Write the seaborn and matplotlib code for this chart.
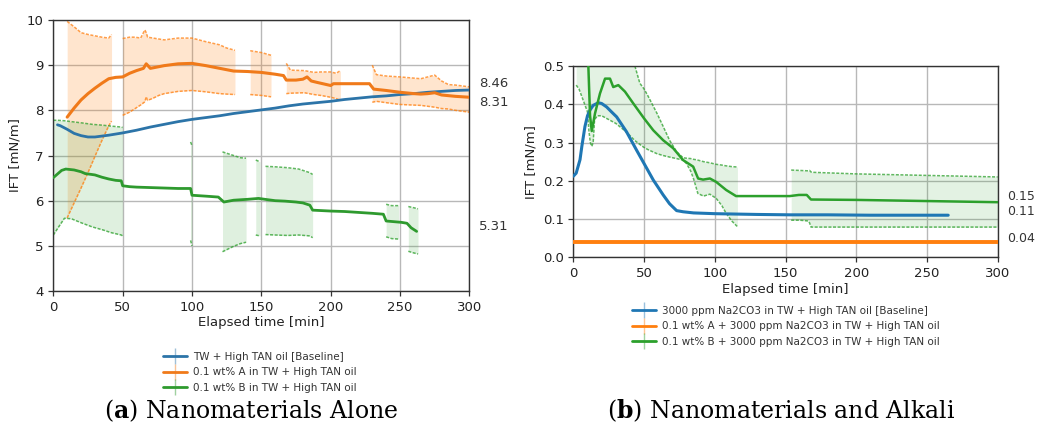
import matplotlib
matplotlib.use("Agg")
import matplotlib.pyplot as plt
from matplotlib.lines import Line2D
import numpy as np
import seaborn as sns

sns.set_style("ticks")
plt.rcParams["font.family"] = ["DejaVu Sans"]
plt.rcParams["mathtext.fontset"] = "custom"
plt.rcParams["mathtext.rm"] = "DejaVu Serif"
plt.rcParams["mathtext.bf"] = "DejaVu Serif:bold"

# ---------------- data : panel (a) ----------------
a_base_t = [3, 5, 10, 15, 20, 25, 30, 35, 40, 50, 60, 70, 80, 90, 100, 110, 120, 130, 140,
            150, 160, 170, 180, 190, 200, 210, 220, 230, 240, 250, 260, 270, 280, 290, 300]
a_base_v = [7.68, 7.66, 7.58, 7.49, 7.44, 7.41, 7.41, 7.43, 7.45, 7.50, 7.56, 7.63, 7.69, 7.75,
            7.80, 7.84, 7.88, 7.93, 7.97, 8.01, 8.05, 8.10, 8.14, 8.17, 8.20, 8.24, 8.27, 8.30,
            8.32, 8.35, 8.37, 8.40, 8.42, 8.44, 8.45]

a_A_t = [10, 15, 20, 25, 30, 35, 40, 45, 50, 55, 60, 65, 67, 70, 75, 80, 90, 100, 110, 120,
         130, 140, 150, 160, 166, 168, 175, 180, 183, 186, 190, 200, 202, 210, 228, 231, 240,
         250, 260, 265, 270, 275, 280, 290, 300]
a_A_v = [7.85, 8.05, 8.23, 8.37, 8.49, 8.60, 8.70, 8.73, 8.74, 8.82, 8.88, 8.93, 9.03, 8.93,
         8.96, 8.99, 9.03, 9.04, 8.99, 8.93, 8.87, 8.86, 8.84, 8.80, 8.77, 8.67, 8.67, 8.69,
         8.74, 8.65, 8.62, 8.55, 8.59, 8.59, 8.59, 8.47, 8.44, 8.40, 8.37, 8.36, 8.37, 8.39,
         8.34, 8.31, 8.29]
# error-bar envelope segments (time, lower, upper)
a_A_err = [
    ([10, 15, 20, 25, 30, 35, 40, 42],
     [5.62, 5.95, 6.28, 6.62, 6.98, 7.33, 7.66, 7.76],
     [9.97, 9.85, 9.72, 9.68, 9.65, 9.62, 9.60, 9.68]),
    ([50, 55, 59, 63, 66, 67, 68, 72, 76, 80, 90, 100, 110, 120, 125, 131],
     [7.89, 7.96, 8.04, 8.12, 8.19, 8.30, 8.22, 8.27, 8.33, 8.37, 8.42, 8.44, 8.41, 8.37, 8.36, 8.35],
     [9.59, 9.62, 9.62, 9.60, 9.78, 9.72, 9.62, 9.60, 9.58, 9.56, 9.60, 9.60, 9.52, 9.45, 9.38, 9.33]),
    ([142, 150, 157],
     [8.35, 8.33, 8.30],
     [9.32, 9.28, 9.22]),
    ([168, 171, 181, 188, 193, 200, 204, 207],
     [8.37, 8.38, 8.39, 8.35, 8.33, 8.29, 8.26, 8.22],
     [9.04, 8.89, 8.88, 8.84, 8.85, 8.85, 8.82, 8.88]),
    ([230, 233, 240, 250, 265, 275, 280, 285, 290, 300],
     [8.18, 8.20, 8.17, 8.13, 8.11, 8.07, 8.04, 8.03, 8.00, 7.96],
     [9.00, 8.79, 8.76, 8.74, 8.70, 8.78, 8.65, 8.57, 8.56, 8.52]),
]

a_B_t = [0, 3, 6, 9, 15, 20, 23, 30, 35, 40, 45, 49, 50, 55, 60, 70, 80, 90, 99, 100, 105, 110,
         119, 123, 130, 140, 148, 155, 160, 167, 175, 180, 185, 187, 200, 210, 220, 230, 238,
         240, 251, 255, 258, 262]
a_B_v = [6.51, 6.59, 6.67, 6.70, 6.68, 6.64, 6.60, 6.57, 6.52, 6.48, 6.45, 6.44, 6.33, 6.31,
         6.30, 6.29, 6.28, 6.27, 6.27, 6.12, 6.11, 6.10, 6.08, 5.97, 6.01, 6.03, 6.05, 6.02,
         6.00, 5.99, 5.97, 5.95, 5.90, 5.79, 5.77, 5.76, 5.74, 5.72, 5.70, 5.55, 5.52, 5.50,
         5.40, 5.32]
a_B_err = [
    ([0, 3, 8, 13, 21, 28, 36, 42, 49, 50],
     [5.24, 5.38, 5.61, 5.60, 5.50, 5.42, 5.35, 5.29, 5.24, 5.22],
     [7.78, 7.78, 7.77, 7.75, 7.72, 7.69, 7.67, 7.65, 7.63, 7.62]),
    ([99, 100],
     [5.12, 5.00],
     [7.30, 7.22]),
    ([122, 126, 130, 135, 139],
     [4.87, 4.93, 4.99, 5.05, 5.08],
     [7.08, 7.04, 7.00, 6.95, 6.94]),
    ([146, 149],
     [5.24, 5.22],
     [6.90, 6.86]),
    ([153, 160, 169, 177, 185, 187],
     [5.25, 5.24, 5.23, 5.24, 5.22, 5.18],
     [6.76, 6.75, 6.73, 6.70, 6.62, 6.58]),
    ([240, 244, 249],
     [5.20, 5.16, 5.15],
     [5.92, 5.89, 5.89]),
    ([256, 259, 263],
     [4.88, 4.85, 4.82],
     [5.87, 5.85, 5.82]),
]

# ---------------- data : panel (b) ----------------
b_base_t = [0, 2, 4.7, 6, 8.2, 10, 11.8, 14, 17.6, 20, 23.5, 27, 30.6, 34, 37.6, 41, 44.7, 50,
            56.5, 63.5, 68, 73, 77.6, 85, 100, 130, 153, 180, 210, 240, 265]
b_base_v = [0.212, 0.220, 0.255, 0.290, 0.342, 0.370, 0.385, 0.397, 0.404, 0.402, 0.393, 0.380,
            0.367, 0.348, 0.328, 0.305, 0.280, 0.245, 0.202, 0.163, 0.140, 0.122, 0.119, 0.116,
            0.114, 0.112, 0.111, 0.111, 0.110, 0.110, 0.110]

b_A_t = [0, 50, 100, 150, 200, 250, 300]
b_A_v = [0.04, 0.04, 0.04, 0.04, 0.04, 0.04, 0.04]

b_B_t = [10, 10.6, 11.8, 13, 15.3, 18.8, 22.4, 25.9, 28.2, 31.8, 36.5, 42.4, 50, 56.5, 63.5,
         70.6, 77.6, 84.7, 88.2, 91.7, 96.5, 101, 108, 115, 153, 159.5, 165, 168, 200, 250, 300]
b_B_v = [0.65, 0.50, 0.37, 0.33, 0.376, 0.428, 0.467, 0.467, 0.445, 0.450, 0.433, 0.402, 0.363,
         0.332, 0.306, 0.285, 0.254, 0.237, 0.206, 0.203, 0.206, 0.197, 0.176, 0.160, 0.160,
         0.163, 0.163, 0.151, 0.150, 0.147, 0.144]
b_B_err = [
    ([2, 4, 6, 8, 10, 11, 12, 13, 14, 15, 17, 20, 25, 30, 35, 40, 43.5, 47, 50, 53, 59, 63.5,
      68, 73, 77.6, 80, 83, 85, 87, 88, 92, 96.5, 101, 105, 108, 112, 116],
     [0.45, 0.44, 0.42, 0.40, 0.38, 0.33, 0.30, 0.29, 0.30, 0.36, 0.37, 0.37, 0.36, 0.35, 0.335,
      0.318, 0.305, 0.295, 0.287, 0.281, 0.271, 0.266, 0.262, 0.258, 0.254, 0.245, 0.225, 0.205,
      0.18, 0.167, 0.16, 0.165, 0.154, 0.135, 0.115, 0.095, 0.08],
     [0.60, 0.60, 0.60, 0.60, 0.60, 0.60, 0.60, 0.60, 0.60, 0.60, 0.60, 0.60, 0.60, 0.60, 0.60,
      0.56, 0.50, 0.455, 0.44, 0.42, 0.377, 0.342, 0.306, 0.276, 0.26, 0.259, 0.258, 0.256,
      0.255, 0.254, 0.25, 0.247, 0.243, 0.241, 0.239, 0.237, 0.236]),
    ([154, 160, 166, 167, 168, 170, 200, 250, 300],
     [0.097, 0.097, 0.095, 0.090, 0.079, 0.079, 0.079, 0.079, 0.079],
     [0.228, 0.227, 0.226, 0.227, 0.223, 0.222, 0.218, 0.214, 0.210]),
]

labels_a = ["TW + High TAN oil [Baseline]",
            "0.1 wt% A in TW + High TAN oil",
            "0.1 wt% B in TW + High TAN oil"]
labels_b = ["3000 ppm Na2CO3 in TW + High TAN oil [Baseline]",
            "0.1 wt% A + 3000 ppm Na2CO3 in TW + High TAN oil",
            "0.1 wt% B + 3000 ppm Na2CO3 in TW + High TAN oil"]
end_labels_a = [("8.46", 8.595), ("8.31", 8.175), ("5.31", 5.42)]
end_labels_b = [("0.15", 0.158), ("0.11", 0.121), ("0.04", 0.050)]
caption_a = r"($\mathbf{a}$) Nanomaterials Alone"
caption_b = r"($\mathbf{b}$) Nanomaterials and Alkali"

C_BLUE, C_ORANGE, C_GREEN = "#1f77b4", "#ff7f0e", "#2ca02c"

fig = plt.figure(figsize=(10.37, 4.25), dpi=100)
ax1 = fig.add_axes([0.0514, 0.3153, 0.4012, 0.6376])
ax2 = fig.add_axes([0.5529, 0.3946, 0.4092, 0.4501])


def draw_err(ax, segs, color, alpha):
    for t, lo, hi in segs:
        ax.fill_between(t, lo, hi, color=color, alpha=alpha, lw=0, zorder=1)
        ax.plot(t, lo, color=color, lw=1.1, ls=(0, (2, 1)), alpha=0.75, zorder=2)
        ax.plot(t, hi, color=color, lw=1.1, ls=(0, (2, 1)), alpha=0.75, zorder=2)


def style_axes(ax):
    ax.grid(True, color="#b8b8b8", lw=1.0)
    ax.set_axisbelow(True)
    for s in ax.spines.values():
        s.set_color("#333333")
        s.set_linewidth(1.0)
    ax.tick_params(axis="both", labelsize=9.5, length=3.5, width=0.9, color="#333333",
                   labelcolor="#222222", direction="out")
    ax.set_xlabel("Elapsed time [min]", fontsize=9.5, color="#222222", labelpad=2)
    ax.set_ylabel("IFT [mN/m]", fontsize=9.5, color="#222222", labelpad=4)


# panel (a)
draw_err(ax1, a_A_err, C_ORANGE, 0.2)
draw_err(ax1, a_B_err, C_GREEN, 0.15)
sns.lineplot(x=a_base_t, y=a_base_v, ax=ax1, color="#2c74a8", lw=2.0, zorder=4)
sns.lineplot(x=a_A_t, y=a_A_v, ax=ax1, color="#f07a1a", lw=2.2, zorder=4)
sns.lineplot(x=a_B_t, y=a_B_v, ax=ax1, color="#2e9a2e", lw=2.0, zorder=4)
ax1.set_xlim(0, 300)
ax1.set_ylim(4, 10)
ax1.set_xticks([0, 50, 100, 150, 200, 250, 300])
ax1.set_yticks([4, 5, 6, 7, 8, 9, 10])
style_axes(ax1)
for txt, yv in end_labels_a:
    ax1.text(1.023, yv, txt, transform=ax1.get_yaxis_transform(), fontsize=9.5,
             color="#333333", va="center", ha="left")

# panel (b)
draw_err(ax2, b_B_err, C_GREEN, 0.13)
sns.lineplot(x=b_base_t, y=b_base_v, ax=ax2, color=C_BLUE, lw=2.2, zorder=4)
sns.lineplot(x=b_A_t, y=b_A_v, ax=ax2, color=C_ORANGE, lw=2.8, zorder=4)
sns.lineplot(x=b_B_t, y=b_B_v, ax=ax2, color=C_GREEN, lw=1.8, zorder=4)
ax2.set_xlim(0, 300)
ax2.set_ylim(0, 0.5)
ax2.set_xticks([0, 50, 100, 150, 200, 250, 300])
ax2.set_yticks([0.0, 0.1, 0.2, 0.3, 0.4, 0.5])
ax2.yaxis.set_major_formatter(matplotlib.ticker.FormatStrFormatter("%.1f"))
style_axes(ax2)
for txt, yv in end_labels_b:
    ax2.text(1.022, yv, txt, transform=ax2.get_yaxis_transform(), fontsize=9,
             color="#333333", va="center", ha="left")


def handles(colors):
    hs = []
    for c in colors:
        hs.append((Line2D([], [], color=c, lw=2),
                   Line2D([], [], color=c, marker="|", markersize=11, ls="None", alpha=0.45,
                          markeredgewidth=1)))
    return hs


leg_kw = dict(frameon=False, fontsize=7.5, handlelength=2.3, handletextpad=0.6,
              labelspacing=0.52, borderpad=0, borderaxespad=0, loc="upper left",
              bbox_transform=fig.transFigure, labelcolor="#333333")
ax1.legend(handles(["#2c74a8", "#f07a1a", "#2e9a2e"]), labels_a,
           bbox_to_anchor=(163 / 1037, 1 - 352 / 425), **leg_kw)
ax2.legend(handles([C_BLUE, C_ORANGE, C_GREEN]), labels_b,
           bbox_to_anchor=(632 / 1037, 1 - 306 / 425), **leg_kw)

fig.text(251 / 1037, 1 - 418 / 425, caption_a, fontsize=17, family="DejaVu Serif",
         ha="center", va="baseline", color="black")
fig.text(781 / 1037, 1 - 418 / 425, caption_b, fontsize=17, family="DejaVu Serif",
         ha="center", va="baseline", color="black")

fig.savefig("out.png", dpi=100)
